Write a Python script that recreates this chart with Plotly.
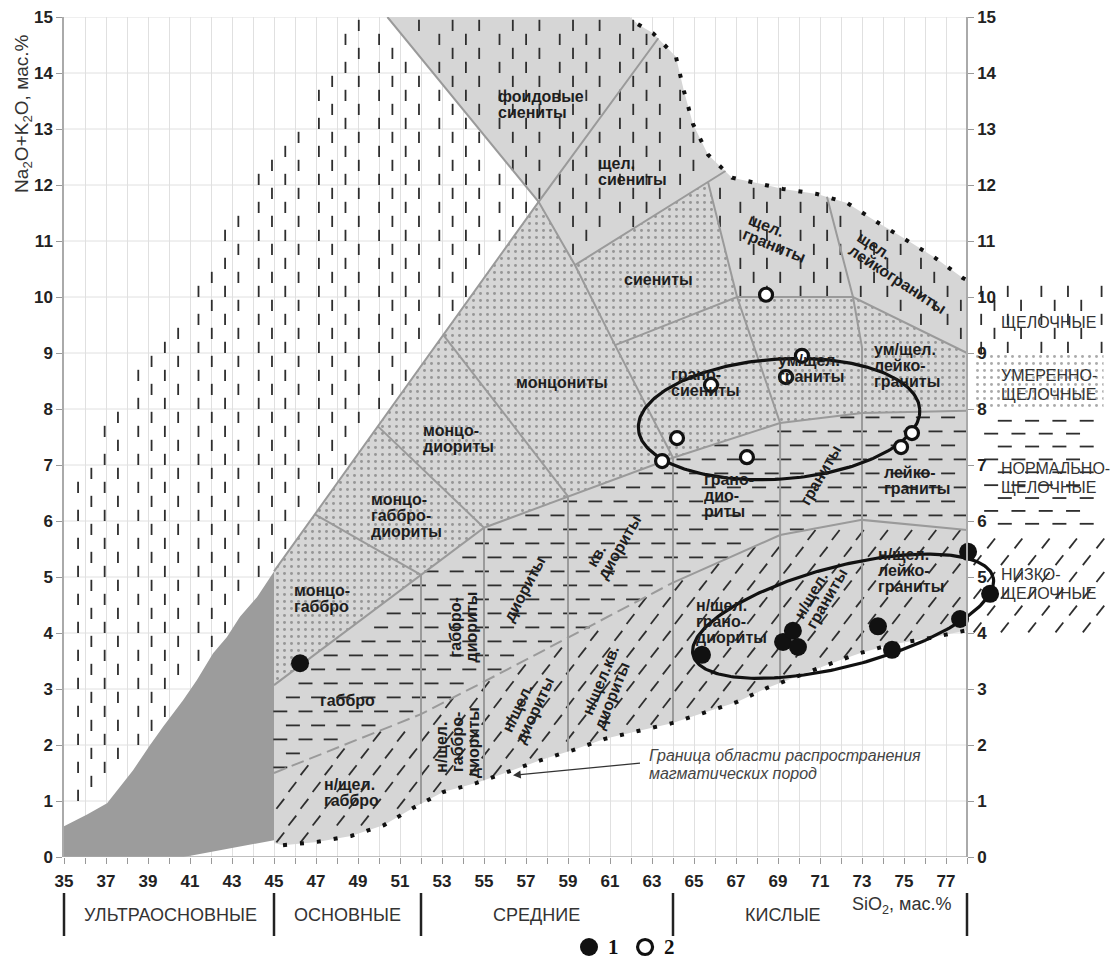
import numpy as np
import plotly.graph_objects as go

# ---------------- figure geometry ----------------
W, H = 1115, 961
M_LEFT, M_TOP, M_BOTTOM = 64, 17, 104
PX_X, PX_Y = 21.0, 56.0            # pixels per 1 wt.% on each axis
PLOT_W = W - M_LEFT
PLOT_H = H - M_TOP - M_BOTTOM
X_LO, X_HI = 35, 78
X_RIGHT = X_LO + PLOT_W / PX_X       # axis extends under the zone legend on the right
FONT = "Liberation Sans, Arial, sans-serif"

# ---------------- analyses ----------------
sio2_group1 = [46.24, 65.38, 69.24, 69.71, 69.95, 73.76, 74.43, 77.67, 78.05, 79.1]
alk_group1 = [3.46, 3.61, 3.84, 4.04, 3.75, 4.12, 3.70, 4.25, 5.45, 4.70]
sio2_group2 = [68.43, 70.14, 69.38, 65.81, 64.19, 63.48, 67.52, 75.38, 74.86]
alk_group2 = [10.04, 8.95, 8.57, 8.43, 7.48, 7.07, 7.14, 7.57, 7.32]

# ---------------- field boundaries ----------------
ultra_x = [35.0, 36.1, 37.05, 37.57, 38.29, 39.1, 39.71, 40.67, 41.33, 42.1, 42.76, 43.38, 44.19, 45.0]
ultra_y = [0.55, 0.76, 0.96, 1.20, 1.55, 2.00, 2.32, 2.80, 3.16, 3.64, 3.93, 4.29, 4.64, 5.10]

bottom_x = [45.0, 45.43, 47.05, 48.67, 50.24, 51.62, 53.05, 54.62, 56.14, 57.71, 59.24, 60.76,
            62.33, 63.95, 65.43, 67.05, 68.48, 70.05, 71.48, 72.9, 74.33, 76.24, 78.0]
bottom_y = [0.25, 0.21, 0.27, 0.375, 0.57, 0.875, 1.16, 1.32, 1.52, 1.73, 1.91, 2.11,
            2.25, 2.39, 2.57, 2.77, 3.02, 3.25, 3.45, 3.64, 3.79, 3.91, 4.05]

top_x = [61.95, 62.33, 63.05, 64.14, 64.52, 64.95, 65.67, 66.81, 68.43, 69.24, 70.86, 72.29,
         73.71, 75.14, 76.48, 77.8, 78.0]
top_y = [15.0, 14.87, 14.71, 14.29, 13.68, 13.09, 12.54, 12.13, 12.0, 11.93, 11.84, 11.68,
         11.34, 11.02, 10.7, 10.34, 10.3]

A = (45.0, 5.1)      # foot of the alkaline line
C = (57.6, 11.7)     # crossing of the two main lines
D = (63.3, 14.62)
F = (50.4, 15.0)
G = (59.33, 10.57)
HH = (61.24, 9.14)
I = (64.0, 7.13)

line_L1 = [G, (66.5, 12.25)]
line_L2 = [(65.67, 12.05), (67.05, 10.0), (69.1, 7.75), (69.1, 3.11)]
line_L3 = [(71.33, 11.79), (72.57, 10.0), (73.0, 9.1), (73.0, 3.68)]
line_alk_mod = [HH, (67.05, 10.0), (72.57, 10.0), (78.0, 9.0)]
line_mod_norm = [(45.0, 3.07), (55.0, 5.88), I, (69.1, 7.75), (73.0, 7.93), (78.0, 7.97)]
line_norm_low_dashed = [(45.0, 1.5), (52.0, 2.55), (55.0, 3.13), (59.0, 3.91), (64.0, 4.9)]
line_norm_low_solid = [(64.0, 4.9), (69.1, 5.75), (73.0, 6.02), (78.0, 5.84)]
vertical_x = [52.0, 55.0, 59.0, 64.0]
vertical_top = [5.04, 5.88, 6.44, 7.13]
monzo_lines = [[(53.05, 9.33), (59.0, 6.44)],
               [(49.95, 7.69), (55.0, 5.88)],
               [(46.95, 6.12), (52.0, 5.04)]]

# ---------------- class boundaries below the axis ----------------
class_edges = [35, 45, 52, 64, 78]
class_names = ["УЛЬТРАОСНОВНЫЕ", "ОСНОВНЫЕ", "СРЕДНИЕ", "КИСЛЫЕ"]
class_label_x = [40.05, 48.5, 57.5, 69.24]

# legend entries (symbol x, label x, label)
legend_items = [(60.0, 61.15, "1", "filled"), (62.67, 63.85, "2", "open")]

# ---------------- rock-name labels ----------------
field_labels = [
    (["фоидовые", "сиениты"], 55.62, 13.43, 0, "left"),
    (["щел.", "сиениты"], 60.38, 12.24, 0, "left"),
    (["сиениты"], 63.29, 10.32, 0, "center"),
    (["щел.", "граниты"], 68.95, 11.05, 22, "left"),
    (["щел.", "лейкограниты"], 74.9, 10.43, 33, "left"),
    (["монцониты"], 58.71, 8.48, 0, "center"),
    (["монцо-", "диориты"], 52.05, 7.48, 0, "left"),
    (["монцо-", "габбро-", "диориты"], 49.57, 6.1, 0, "left"),
    (["монцо-", "габбро"], 45.9, 4.62, 0, "left"),
    (["габбро"], 48.48, 2.8, 0, "center"),
    (["н/щел.", "габбро"], 47.33, 1.16, 0, "left"),
    (["габбро-", "диориты"], 54.0, 4.1, -90, "left"),
    (["н/щел.", "габбро-", "диориты"], 53.7, 2.05, -90, "left"),
    (["диориты"], 56.95, 4.79, -62, "center"),
    (["н/щел.", "диориты"], 57.05, 2.68, -65, "left"),
    (["кв.", "диориты"], 61.1, 5.6, -60, "left"),
    (["н/щел.кв.", "диориты"], 60.9, 3.1, -68, "left"),
    (["грано-", "сиениты"], 63.86, 8.48, 0, "left"),
    (["ум/щел.", "граниты"], 68.95, 8.73, 0, "left"),
    (["ум/щел.", "лейко-", "граниты"], 73.52, 8.77, 0, "left"),
    (["грано-", "дио-", "риты"], 65.43, 6.46, 0, "left"),
    (["граниты"], 71.0, 6.82, -60, "center"),
    (["лейко-", "граниты"], 74.0, 6.73, 0, "left"),
    (["н/щел.", "грано-", "диориты"], 65.05, 4.2, 0, "left"),
    (["н/щел.", "граниты"], 71.0, 4.68, -60, "left"),
    (["н/щел.", "лейко-", "граниты"], 73.71, 5.12, 0, "left"),
]

zone_labels = [
    (["ЩЕЛОЧНЫЕ"], 79.57, 9.54),
    (["УМЕРЕННО-", "ЩЕЛОЧНЫЕ"], 79.57, 8.43),
    (["НОРМАЛЬНО-", "ЩЕЛОЧНЫЕ"], 79.57, 6.77),
    (["НИЗКО-", "ЩЕЛОЧНЫЕ"], 79.57, 4.88),
]
zone_bands = {"alk": (9.0, 10.2), "mod": (8.0, 9.0), "norm": (5.9, 8.0), "low": (4.0, 5.9)}
ZONE_X = (78.3, 84.5)


# ---------------- helpers ----------------
def xy(points):
    return [p[0] for p in points], [p[1] for p in points]


def px_to_paper_x(xv):
    return (xv - X_LO) * PX_X / PLOT_W


def py_to_paper_y(py):
    return (H - M_BOTTOM - py) / PLOT_H


def in_poly(x, y, poly):
    x = np.asarray(x, float)
    y = np.asarray(y, float)
    p = np.asarray(poly, float)
    x1, y1 = p[:, 0], p[:, 1]
    x2, y2 = np.roll(x1, -1), np.roll(y1, -1)
    res = np.zeros(x.shape, bool)
    for a, b, c, d in zip(x1, y1, x2, y2):
        if b == d:
            continue
        cross = (b > y) != (d > y)
        xi = a + (y - b) * (c - a) / (d - b)
        res ^= cross & (x < xi)
    return res


def keep_dashes(px, py, accept, half_dx, half_dy):
    px, py = np.asarray(px, float), np.asarray(py, float)
    ok = accept(px, py) & accept(px - half_dx, py - half_dy) & accept(px + half_dx, py + half_dy)
    return px[ok], py[ok]


def stagger_grid(x0, x1, y0, y1, dx, dy):
    gx, gy = [], []
    for i, yv in enumerate(np.arange(y0, y1, dy)):
        off = dx / 2 if i % 2 else 0.0
        for xv in np.arange(x0 + off, x1, dx):
            gx.append(xv)
            gy.append(yv)
    return np.array(gx), np.array(gy)


def vdash_grid(x0, x1, y0, y1):
    gx, gy = [], []
    for k in range(0, 20):
        for j in range(4):
            xv = 35.67 + 2.867 * k + 0.633 * j
            if not (x0 <= xv <= x1):
                continue
            ys = 14.85 - (0.25 if j % 2 == 0 else 0.0) - 0.5 * np.arange(0, 40)
            ys = ys[(ys >= y0) & (ys <= y1)]
            gx += [xv] * len(ys)
            gy += list(ys)
    return np.array(gx), np.array(gy)


def poly_accept(poly):
    return lambda x, y: in_poly(x, y, poly)


def rect_accept(xa, xb, ya, yb):
    return lambda x, y: (x >= xa) & (x <= xb) & (y >= ya) & (y <= yb)


# ---------------- polygons ----------------
bottom_pts = list(zip(bottom_x, bottom_y))
top_pts = list(zip(top_x, top_y))
gray_poly = bottom_pts + top_pts[::-1] + [F, C, A]
dark_poly = list(zip(ultra_x, ultra_y)) + [(45.0, 0.3), (40.7, 0.0), (35.0, 0.0)]
alk_poly = [F, C, G, line_L2[0], (67.05, 10.0), (72.57, 10.0), (78.0, 9.0)] + top_pts[::-1]
mod_poly = [G, line_L2[0], (67.05, 10.0), (72.57, 10.0), (78.0, 9.0)] + line_mod_norm[::-1] + [A, C]
norm_poly = line_mod_norm + (line_norm_low_dashed[:-1] + line_norm_low_solid)[::-1]
low_poly = line_norm_low_dashed[:-1] + line_norm_low_solid + bottom_pts[::-1]


def white_accept(x, y):
    fx = np.where(y >= C[1], F[0] + (F[1] - y) * (C[0] - F[0]) / (F[1] - C[1]),
                  np.where(y >= A[1], A[0] + (y - A[1]) * (C[0] - A[0]) / (C[1] - A[1]), A[0]))
    return ((x >= 35.4) & (y <= 15.0) & (x < fx - 0.15)
            & (y < 6.95 + 0.605 * (x - 35.6))
            & (y > np.interp(x, ultra_x, ultra_y) + 0.12))


fig = go.Figure()


def fill_poly(poly, color):
    px, py = xy(poly)
    fig.add_trace(go.Scatter(x=px + [px[0]], y=py + [py[0]], mode="lines", fill="toself",
                             fillcolor=color, line=dict(width=0), hoverinfo="skip", showlegend=False))


def dot_poly(poly):
    px, py = xy(poly)
    fig.add_trace(go.Scatter(x=px + [px[0]], y=py + [py[0]], mode="lines", fill="toself",
                             fillcolor="rgba(0,0,0,0)", line=dict(width=0),
                             fillpattern=dict(shape=".", size=7, solidity=0.14, fgcolor="#555",
                                              bgcolor="rgba(0,0,0,0)", fillmode="overlay"),
                             hoverinfo="skip", showlegend=False))


def dash_trace(px, py, symbol, size, angle=0):
    fig.add_trace(go.Scatter(x=px, y=py, mode="markers", hoverinfo="skip", showlegend=False,
                             cliponaxis=False,
                             marker=dict(symbol=symbol, size=size, angle=angle, color="#2e2e2e",
                                         line=dict(width=1.8, color="#2e2e2e"))))


# ---------------- fills ----------------
fill_poly(dark_poly, "#9c9c9c")
fill_poly(gray_poly, "#d6d6d6")
dot_poly(mod_poly)
zx0, zx1 = ZONE_X
dot_poly([(zx0, zone_bands["mod"][0]), (zx1, zone_bands["mod"][0]),
          (zx1, zone_bands["mod"][1]), (zx0, zone_bands["mod"][1])])

# vertical dashes: alkaline series
vx, vy = vdash_grid(35.0, 78.0, 0.0, 15.0)
wx, wy = keep_dashes(vx, vy, white_accept, 0, 0.07)
ax_, ay_ = keep_dashes(vx, vy, poly_accept(alk_poly), 0, 0.07)
rvx, rvy = vdash_grid(zx0, zx1, 0, 15)
rvx, rvy = keep_dashes(rvx, rvy, rect_accept(zx0, zx1, *zone_bands["alk"]), 0, 0.07)
dash_trace(np.concatenate([wx, ax_, rvx]), np.concatenate([wy, ay_, rvy]), "line-ns", 8)

# horizontal dashes: normal series
hx, hy = stagger_grid(45.3, 78.0, 1.6, 8.0, 1.2, 0.25)
nx, ny = keep_dashes(hx, hy, poly_accept(norm_poly), 0.24, 0)
rhx, rhy = stagger_grid(zx0 + 0.2, zx1, 5.95, 8.0, 1.3, 0.23)
rhx, rhy = keep_dashes(rhx, rhy, rect_accept(zx0, zx1, *zone_bands["norm"]), 0.24, 0)
dash_trace(np.concatenate([nx, rhx]), np.concatenate([ny, rhy]), "line-ew", 10)

# slanted dashes: low-alkali series
sx, sy = stagger_grid(45.3, 78.0, 0.35, 6.0, 1.15, 0.3)
lx, ly = keep_dashes(sx, sy, poly_accept(low_poly), 0.12, 0.07)
rsx, rsy = stagger_grid(zx0 + 0.2, zx1, 4.1, 5.9, 1.3, 0.3)
rsx, rsy = keep_dashes(rsx, rsy, rect_accept(zx0, zx1, *zone_bands["low"]), 0.12, 0.07)
dash_trace(np.concatenate([lx, rsx]), np.concatenate([ly, rsy]), "line-ns", 9, angle=38)

# ---------------- boundary lines ----------------
gx, gy = [], []
solid_lines = [[A, C, D], [F, C, G, HH, I], line_L1, line_L2, line_L3, line_alk_mod,
               line_mod_norm, line_norm_low_solid] + monzo_lines
for xv, yt in zip(vertical_x, vertical_top):
    solid_lines.append([(xv, yt), (xv, float(np.interp(xv, bottom_x, bottom_y)))])
for ln in solid_lines:
    lx_, ly_ = xy(ln)
    gx += lx_ + [None]
    gy += ly_ + [None]
fig.add_trace(go.Scatter(x=gx, y=gy, mode="lines", line=dict(color="#9a9a9a", width=2),
                         hoverinfo="skip", showlegend=False))
dx_, dy_ = xy(line_norm_low_dashed)
fig.add_trace(go.Scatter(x=dx_, y=dy_, mode="lines",
                         line=dict(color="#9a9a9a", width=2, dash="13px,6px"),
                         hoverinfo="skip", showlegend=False))

# dotted limit of igneous rock compositions
for bx, by in [(top_x[1:], top_y[1:]), (bottom_x[1:], bottom_y[1:])]:
    fig.add_trace(go.Scatter(x=bx, y=by, mode="lines",
                             line=dict(color="#111", width=4, dash="4px,13px"),
                             hoverinfo="skip", showlegend=False))


# ---------------- outline ellipses ----------------
def ellipse(xc, yc, a_px, b_px, ang_deg, n=240):
    t = np.linspace(0, 2 * np.pi, n)
    al = np.radians(ang_deg)
    ddx = a_px * np.cos(t) * np.cos(al) - b_px * np.sin(t) * np.sin(al)
    ddy = a_px * np.cos(t) * np.sin(al) + b_px * np.sin(t) * np.cos(al)
    return xc + ddx / PX_X, yc + ddy / PX_Y


for ex, ey in [ellipse(69.05, 7.82, 141, 60, 4), ellipse(72.1, 4.30, 155, 50, 14.6)]:
    fig.add_trace(go.Scatter(x=ex, y=ey, mode="lines", line=dict(color="#111", width=3.2),
                             hoverinfo="skip", showlegend=False))

# ---------------- analyses ----------------
fig.add_trace(go.Scatter(x=sio2_group1, y=alk_group1, mode="markers", cliponaxis=False,
                         marker=dict(size=18, color="#111", line=dict(width=0)),
                         name="1", showlegend=False))
fig.add_trace(go.Scatter(x=sio2_group2, y=alk_group2, mode="markers", cliponaxis=False,
                         marker=dict(size=13, color="white", line=dict(width=3.2, color="#111")),
                         name="2", showlegend=False))

# empty trace keeping the right-hand axis alive
fig.add_trace(go.Scatter(x=[None], y=[None], yaxis="y2", showlegend=False, hoverinfo="skip"))


# ---------------- text ----------------
def add_label(lines, x, y, angle=0, align="left", size=16, lh=16, bold=True,
              color="#1e1e1e", italic=False):
    n = len(lines)
    th = np.radians(angle)
    widths = [len(s) * 0.6 * size for s in lines]
    wmax = max(widths)
    for i, s in enumerate(lines):
        d = (i - (n - 1) / 2) * lh
        txt = f"<b>{s}</b>" if bold else s
        if italic:
            txt = f"<i>{txt}</i>"
        font = dict(family=FONT, size=size, color=color)
        if angle == 0 and align == "left":
            fig.add_annotation(x=x, y=y, text=txt, showarrow=False, xanchor="left",
                               yanchor="middle", yshift=-d, font=font, borderpad=0)
        else:
            a = (widths[i] - wmax) / 2 if align == "left" else 0.0
            ddx = a * np.cos(th) - d * np.sin(th)
            ddy = a * np.sin(th) + d * np.cos(th)
            fig.add_annotation(x=x, y=y, text=txt, showarrow=False, textangle=angle,
                               xanchor="center", yanchor="middle", xshift=ddx, yshift=-ddy,
                               font=font, borderpad=0)


for lines, lxp, lyp, ang, al in field_labels:
    add_label(lines, lxp, lyp, ang, al)

for lines, lxp, lyp in zone_labels:
    add_label(lines, lxp, lyp, 0, "left", size=16, lh=19, bold=False, color="#333")

add_label(["Граница области распространения", "магматических пород"], 62.81, 1.66, 0, "left",
          size=16, lh=18, bold=False, italic=True, color="#444")
fig.add_annotation(x=56.38, y=1.46, ax=62.5, ay=1.68, axref="x", ayref="y", text="",
                   showarrow=True, arrowhead=2, arrowsize=1.3, arrowwidth=1.2,
                   arrowcolor="#333", standoff=0)

# axis titles
fig.add_annotation(xref="paper", x=(23 - M_LEFT) / PLOT_W, xanchor="center", yanchor="middle",
                   y=13.27, yref="y",
                   text="Na<sub>2</sub>O+K<sub>2</sub>O, мас.%", textangle=-90, showarrow=False,
                   font=dict(family=FONT, size=19, color="#333"))
fig.add_annotation(x=74.86, xref="x", y=py_to_paper_y(905), yref="paper",
                   xanchor="center", yanchor="middle",
                   text="SiO<sub>2</sub>, мас.%", showarrow=False,
                   font=dict(family=FONT, size=18, color="#333"))

# silica classes below the axis
for name, cx in zip(class_names, class_label_x):
    fig.add_annotation(x=cx, xref="x", y=py_to_paper_y(915), yref="paper", text=name,
                       xanchor="center", yanchor="middle",
                       showarrow=False, font=dict(family=FONT, size=18, color="#333"))
shapes = []
for e in class_edges:
    xp = px_to_paper_x(e)
    shapes.append(dict(type="line", xref="paper", yref="paper", x0=xp, x1=xp,
                       y0=py_to_paper_y(893), y1=py_to_paper_y(936),
                       line=dict(color="#222", width=2.5)))

# legend symbols and numbers
LEG_PY = 947
for sx_, tx_, num, kind in legend_items:
    r = 9 if kind == "filled" else 7.5
    shapes.append(dict(type="circle", xref="paper", yref="paper",
                       xsizemode="pixel", ysizemode="pixel",
                       xanchor=px_to_paper_x(sx_), yanchor=py_to_paper_y(LEG_PY),
                       x0=-r, x1=r, y0=-r, y1=r,
                       fillcolor="#111" if kind == "filled" else "white",
                       line=dict(color="#111", width=0 if kind == "filled" else 3.2)))
    fig.add_annotation(x=px_to_paper_x(tx_), xref="paper", y=py_to_paper_y(LEG_PY), yref="paper",
                       xanchor="center", yanchor="middle", text=f"<b>{num}</b>", showarrow=False,
                       font=dict(family="Liberation Serif, serif", size=21, color="#111"))

# horizontal grid and baseline
for yv in range(1, 16):
    shapes.append(dict(type="line", xref="x", yref="y", x0=X_LO, x1=X_HI, y0=yv, y1=yv,
                       layer="below", line=dict(color="#e0e0e0", width=1)))
shapes.append(dict(type="line", xref="x", yref="y", x0=X_LO, x1=X_HI, y0=0, y1=0,
                   layer="above", line=dict(color="#aaa", width=1.5)))

ytv = list(range(0, 16))
ytt = [f"<b>{v}</b>" for v in ytv]
xtv = list(range(X_LO, X_HI + 1, 2))
xtt = [f"<b>{v}</b>" for v in xtv]
xminor = list(range(X_LO + 1, X_HI + 1, 2))

fig.update_layout(
    width=W, height=H, template="none",
    margin=dict(l=M_LEFT, r=0, t=M_TOP, b=M_BOTTOM, pad=0),
    paper_bgcolor="white", plot_bgcolor="white", showlegend=False,
    shapes=shapes,
    xaxis=dict(range=[X_LO, X_RIGHT], domain=[0, 1], tickmode="array", tickvals=xtv,
               ticktext=xtt, ticks="outside", ticklen=6, tickcolor="#999", showgrid=True,
               gridcolor="#e0e0e0", gridwidth=1, zeroline=False, showline=False,
               minor=dict(tickmode="array", tickvals=xminor, ticks="outside", ticklen=6,
                          tickcolor="#999", showgrid=True, gridcolor="#e0e0e0", gridwidth=1),
               tickfont=dict(family=FONT, size=17, color="#222"), ticklabelstandoff=3,
               automargin=False, fixedrange=True),
    yaxis=dict(range=[0, 15], domain=[0, 1], tickvals=ytv, ticktext=ytt, ticks="outside",
               ticklen=6, tickcolor="#999", showline=True, linecolor="#aaa", linewidth=1.5,
               showgrid=False, zeroline=False, automargin=False, fixedrange=True,
               tickfont=dict(family=FONT, size=17, color="#222")),
    yaxis2=dict(range=[0, 15], overlaying="y", anchor="free",
                position=px_to_paper_x(X_HI), side="right", tickvals=ytv,
                ticktext=ytt, ticks="outside", ticklen=6, tickcolor="#999", showline=True,
                linecolor="#aaa", linewidth=1.5, showgrid=False, zeroline=False,
                automargin=False, fixedrange=True,
                tickfont=dict(family=FONT, size=17, color="#222")),
)

fig.write_html("out.html")
